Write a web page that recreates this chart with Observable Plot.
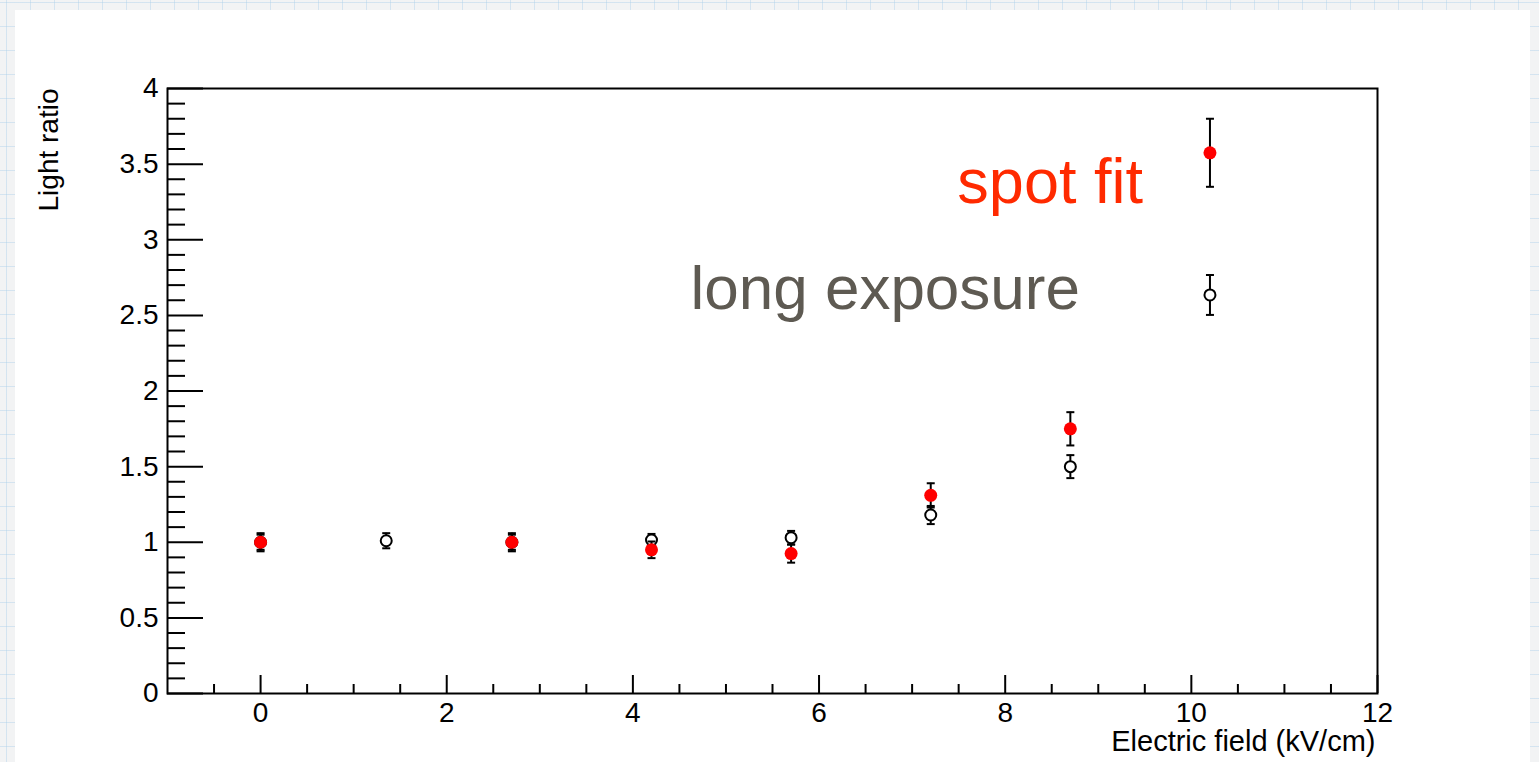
<!DOCTYPE html>
<html>
<head>
<meta charset="utf-8">
<script src="https://cdn.jsdelivr.net/npm/d3@7"></script>
<script src="https://cdn.jsdelivr.net/npm/@observablehq/plot@0.6"></script>
<style>
  html, body { margin: 0; padding: 0; width: 1539px; height: 762px; overflow: hidden; }
  body {
    background-color: #f2f3f4;
    background-image:
      linear-gradient(to right, rgba(175,210,235,0.45) 1px, transparent 1px),
      linear-gradient(to bottom, rgba(175,210,235,0.45) 1px, transparent 1px);
    background-size: 24px 24px;
    background-position: 6px 2px;
    position: relative;
  }
  #panel { position: absolute; left: 15px; top: 10px; width: 1515px; height: 760px; background: #ffffff; }
  #chart { position: absolute; left: 0; top: 0; }
</style>
</head>
<body>
<div id="panel"></div>
<div id="chart"></div>
<script>
// ---- data ----
const fieldSpot = [0, 2.7, 4.2, 5.7, 7.2, 8.7, 10.2];
const ratioSpot = [1.00, 1.00, 0.95, 0.925, 1.31, 1.75, 3.575];
const errSpot   = [0.06, 0.06, 0.055, 0.06, 0.08, 0.11, 0.225];

const fieldLong = [0, 1.35, 2.7, 4.2, 5.7, 7.2, 8.7, 10.2];
const ratioLong = [1.00, 1.01, 1.00, 1.015, 1.03, 1.18, 1.50, 2.635];
const errLong   = [0.05, 0.05, 0.05, 0.04, 0.045, 0.06, 0.076, 0.132];

const seriesNames = ["spot fit", "long exposure"];

const xMajor = [0, 2, 4, 6, 8, 10, 12];
const xMinor = d3.range(-0.5, 12, 0.5).filter(v => Math.abs(v % 2) > 1e-9);
const yMajor = [0, 0.5, 1, 1.5, 2, 2.5, 3, 3.5, 4];
const yMinor = d3.range(1, 40).map(i => i / 10).filter(v => Math.abs((v * 10) % 5) > 1e-6);

const xLabel = "Electric field (kV/cm)";
const yLabel = "Light ratio";

// ---- build ----
const spot = fieldSpot.map((x, i) => ({x, y: ratioSpot[i], e: errSpot[i]}));
const longExp = fieldLong.map((x, i) => ({x, y: ratioLong[i], e: errLong[i]}));

const W = 1539, H = 762;
const mL = 167, mR = 162, mT = 88, mB = 69;
const fw = W - mL - mR, fh = H - mT - mB;

const capSymbol = {
  draw(ctx) { ctx.moveTo(-4, 0); ctx.lineTo(4, 0); }
};
const font = "'Liberation Sans', Arial, Helvetica, sans-serif";

function errMarks(data) {
  return [
    Plot.ruleX(data, {x: "x", y1: d => d.y - d.e, y2: d => d.y + d.e, stroke: "black", strokeWidth: 2}),
    Plot.dot(data, {x: "x", y: d => d.y + d.e, symbol: capSymbol, stroke: "black", strokeWidth: 2, fill: "none", r: 4}),
    Plot.dot(data, {x: "x", y: d => d.y - d.e, symbol: capSymbol, stroke: "black", strokeWidth: 2, fill: "none", r: 4})
  ];
}

const lastSpot = spot[spot.length - 1];
const lastLong = longExp[longExp.length - 1];

const chart = Plot.plot({
  width: W,
  height: H,
  marginLeft: mL, marginRight: mR, marginTop: mT, marginBottom: mB,
  style: {background: "transparent", fontFamily: font, fontSize: "28px", color: "black"},
  x: {domain: [-1, 12]},
  y: {domain: [0, 4]},
  marks: [
    // ticks (inward, ROOT style)
    Plot.tickY(yMajor, {y: d => d, insetRight: fw - 36, stroke: "black", strokeWidth: 2}),
    Plot.tickY(yMinor, {y: d => d, insetRight: fw - 18, stroke: "black", strokeWidth: 2}),
    Plot.tickX(xMajor, {x: d => d, insetTop: fh - 18, stroke: "black", strokeWidth: 2}),
    Plot.tickX(xMinor, {x: d => d, insetTop: fh - 9, stroke: "black", strokeWidth: 2}),
    Plot.frame({stroke: "black", strokeWidth: 2}),
    Plot.axisX({ticks: xMajor, tickSize: 0, tickPadding: 9, tickFormat: d3.format("~g"), label: null, fontSize: 28}),
    Plot.axisY({ticks: yMajor, tickSize: 0, tickPadding: 9, tickFormat: d3.format("~g"), label: null, fontSize: 28}),
    // axis titles
    Plot.text([xLabel], {text: d => d, frameAnchor: "bottom-right", textAnchor: "end", lineAnchor: "middle", dx: -2, dy: 48, fontSize: 29}),
    Plot.text([yLabel], {text: d => d, frameAnchor: "top-left", textAnchor: "end", lineAnchor: "middle", rotate: -90, dx: -118, dy: 0, fontSize: 28}),
    // long exposure
    ...errMarks(longExp),
    Plot.dot(longExp, {x: "x", y: "y", r: 5.5, fill: "white", stroke: "black", strokeWidth: 2}),
    // spot fit
    ...errMarks(spot),
    Plot.dot(spot, {x: "x", y: "y", r: 6.5, fill: "#ff0000", stroke: "none"}),
    // annotations
    Plot.text([lastSpot], {x: "x", y: "y", text: () => seriesNames[0], fill: "#ff2a00", fontSize: 63, textAnchor: "end", lineAnchor: "middle", dx: -67, dy: 30}),
    Plot.text([lastLong], {x: "x", y: "y", text: () => seriesNames[1], fill: "#5e5a52", fontSize: 62, textAnchor: "end", lineAnchor: "middle", dx: -130, dy: -6})
  ]
});
document.getElementById("chart").appendChild(chart);
</script>
</body>
</html>
